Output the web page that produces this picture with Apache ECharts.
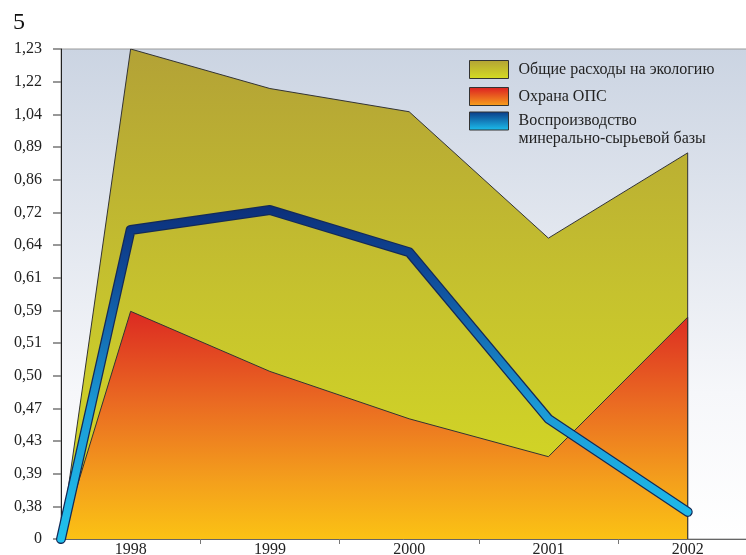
<!DOCTYPE html>
<html>
<head>
<meta charset="utf-8">
<script src="https://cdn.jsdelivr.net/npm/echarts@6/dist/echarts.min.js"></script>
<style>html,body{margin:0;padding:0;background:#fff}#c{width:746px;height:555px}</style>
</head>
<body>
<div id="c"></div>
<script>
// Categories (years)
var years = ['1998', '1999', '2000', '2001', '2002'];
// Y tick labels (evenly spaced positions 0..15)
var yLabels = ['0', '0,38', '0,39', '0,43', '0,47', '0,50', '0,51', '0,59', '0,61', '0,64', '0,72', '0,86', '0,89', '1,04', '1,22', '1,23'];
// Series values, in tick-position units
var totalEco = [15.0, 13.79, 13.08, 9.21, 11.82];   // Общие расходы на экологию
var protectOPS = [6.97, 5.13, 3.68, 2.52, 6.79];   // Охрана ОПС
var mineralBase = [9.46, 10.07, 8.78, 3.68, 0.83]; // Воспроизводство минерально-сырьевой базы
var startValue = 0;

var names = ['Общие расходы на экологию', 'Охрана ОПС', 'Воспроизводство минерально-сырьевой базы'];
var FONT = 'Liberation Serif';
var G = echarts.graphic.LinearGradient;

function areaData(vals) {
  var d = [[-0.5, startValue]];
  vals.forEach(function (v, i) { d.push([i, v]); });
  d.push([vals.length - 1, startValue]);
  return d;
}
function lineData(vals) {
  var d = [[-0.5, startValue]];
  vals.forEach(function (v, i) { d.push([i, v]); });
  return d;
}

var oliveGrad = new G(0, 0, 0, 1, [{offset: 0, color: '#b3a236'}, {offset: 0.5, color: '#c6c22e'}, {offset: 1, color: '#d6dc22'}]);
var orangeGrad = new G(0, 0, 0, 1, [{offset: 0, color: '#dc2a22'}, {offset: 0.4, color: '#ea6a22'}, {offset: 0.75, color: '#f4a01c'}, {offset: 1, color: '#fbc214'}]);
var blueGrad = new G(0, 0, 0, 1, [{offset: 0, color: '#0c2f7a'}, {offset: 0.2, color: '#0f4a98'}, {offset: 0.6, color: '#1b9ad6'}, {offset: 1, color: '#20c2ee'}]);

var chart = echarts.init(document.getElementById('c'));
chart.setOption({
  animation: false,
  backgroundColor: '#fff',
  title: {text: '5', left: 8, top: 6, textStyle: {fontFamily: FONT, fontSize: 24, fontWeight: 'normal', color: '#111'}},
  grid: {
    left: 61, top: 49, right: -1, bottom: 16, show: true,
    outerBoundsMode: 'none', containLabel: false,
    borderWidth: 1, borderColor: '#9a9a9a',
    backgroundColor: new G(0, 0, 0, 1, [{offset: 0, color: '#cbd4e2'}, {offset: 0.7, color: '#f6f7fa'}, {offset: 1, color: '#ffffff'}])
  },
  legend: [{
    data: [
      {name: names[0], itemStyle: {color: new G(0, 0, 0, 1, [{offset: 0, color: '#b3a236'}, {offset: 1, color: '#d6dc22'}]), borderColor: '#333', borderWidth: 1}},
      {name: names[1], itemStyle: {color: new G(0, 0, 0, 1, [{offset: 0, color: '#dc1e22'}, {offset: 1, color: '#f7a21c'}]), borderColor: '#333', borderWidth: 1}}
    ],
    orient: 'vertical', left: 469, top: 60, padding: 0, itemGap: 8,
    itemWidth: 39, itemHeight: 18, icon: 'rect', selectedMode: false,
    formatter: function (n) { return '{t|' + n + '}'; },
    textStyle: {fontFamily: FONT, fontSize: 16, color: '#222', rich: {t: {fontFamily: FONT, fontSize: 16, color: '#222', lineHeight: 18, padding: [0, 0, 0, 5]}}}
  }, {
    data: [
      {name: names[2], itemStyle: {color: new G(0, 0, 0, 1, [{offset: 0, color: '#0c3a86'}, {offset: 1, color: '#1cc0ee'}]), borderColor: '#333', borderWidth: 1}}
    ],
    orient: 'vertical', left: 469, top: 95, padding: 0,
    itemWidth: 39, itemHeight: 18, icon: 'rect', selectedMode: false,
    formatter: function (n) {
      var parts = n.split(' ');
      return '{t| }\n{t|' + parts[0] + '}\n{t|' + parts.slice(1).join(' ') + '}';
    },
    textStyle: {fontFamily: FONT, fontSize: 16, color: '#222', rich: {t: {fontFamily: FONT, fontSize: 16, color: '#222', lineHeight: 18, padding: [0, 0, 0, 5]}}}
  }],
  xAxis: {
    type: 'value', min: -0.5, max: 4.426,
    axisLine: {onZero: false, lineStyle: {color: '#666', width: 1}},
    axisTick: {show: true, customValues: [0.5, 1.5, 2.5, 3.5], length: 5, lineStyle: {color: '#777'}},
    axisLabel: {customValues: [0, 1, 2, 3, 4], formatter: function (v) { return years[Math.round(v)]; },
      margin: 3, fontFamily: FONT, fontSize: 16, color: '#222'},
    splitLine: {show: false}
  },
  yAxis: {
    type: 'value', min: 0, max: yLabels.length - 1, interval: 1,
    axisLine: {show: true, onZero: false, lineStyle: {color: '#222', width: 1}},
    axisTick: {show: true, length: 8, lineStyle: {color: '#777', width: 1.5}},
    axisLabel: {formatter: function (v) { return yLabels[v]; }, margin: 19, padding: [5, 0, 0, 0], fontFamily: FONT, fontSize: 16, color: '#222'},
    splitLine: {show: false}
  },
  series: [
    {name: names[0], type: 'line', data: areaData(totalEco), symbol: 'none', z: 1,
      itemStyle: {color: '#c2bb30'},
      lineStyle: {color: '#333', width: 1}, areaStyle: {color: oliveGrad, opacity: 1}},
    {name: names[1], type: 'line', data: areaData(protectOPS), symbol: 'none', z: 2,
      itemStyle: {color: '#e8501e'},
      lineStyle: {color: '#333', width: 1}, areaStyle: {color: orangeGrad, opacity: 1}},
    {name: 'outline', type: 'line', data: lineData(mineralBase), symbol: 'none', z: 3,
      lineStyle: {color: '#132a58', width: 10, cap: 'round', join: 'round'}},
    {name: names[2], type: 'line', data: lineData(mineralBase), symbol: 'none', z: 4,
      itemStyle: {color: '#1b8fd0'},
      lineStyle: {color: blueGrad, width: 7.5, cap: 'round', join: 'round'}}
  ]
});
</script>
</body>
</html>
